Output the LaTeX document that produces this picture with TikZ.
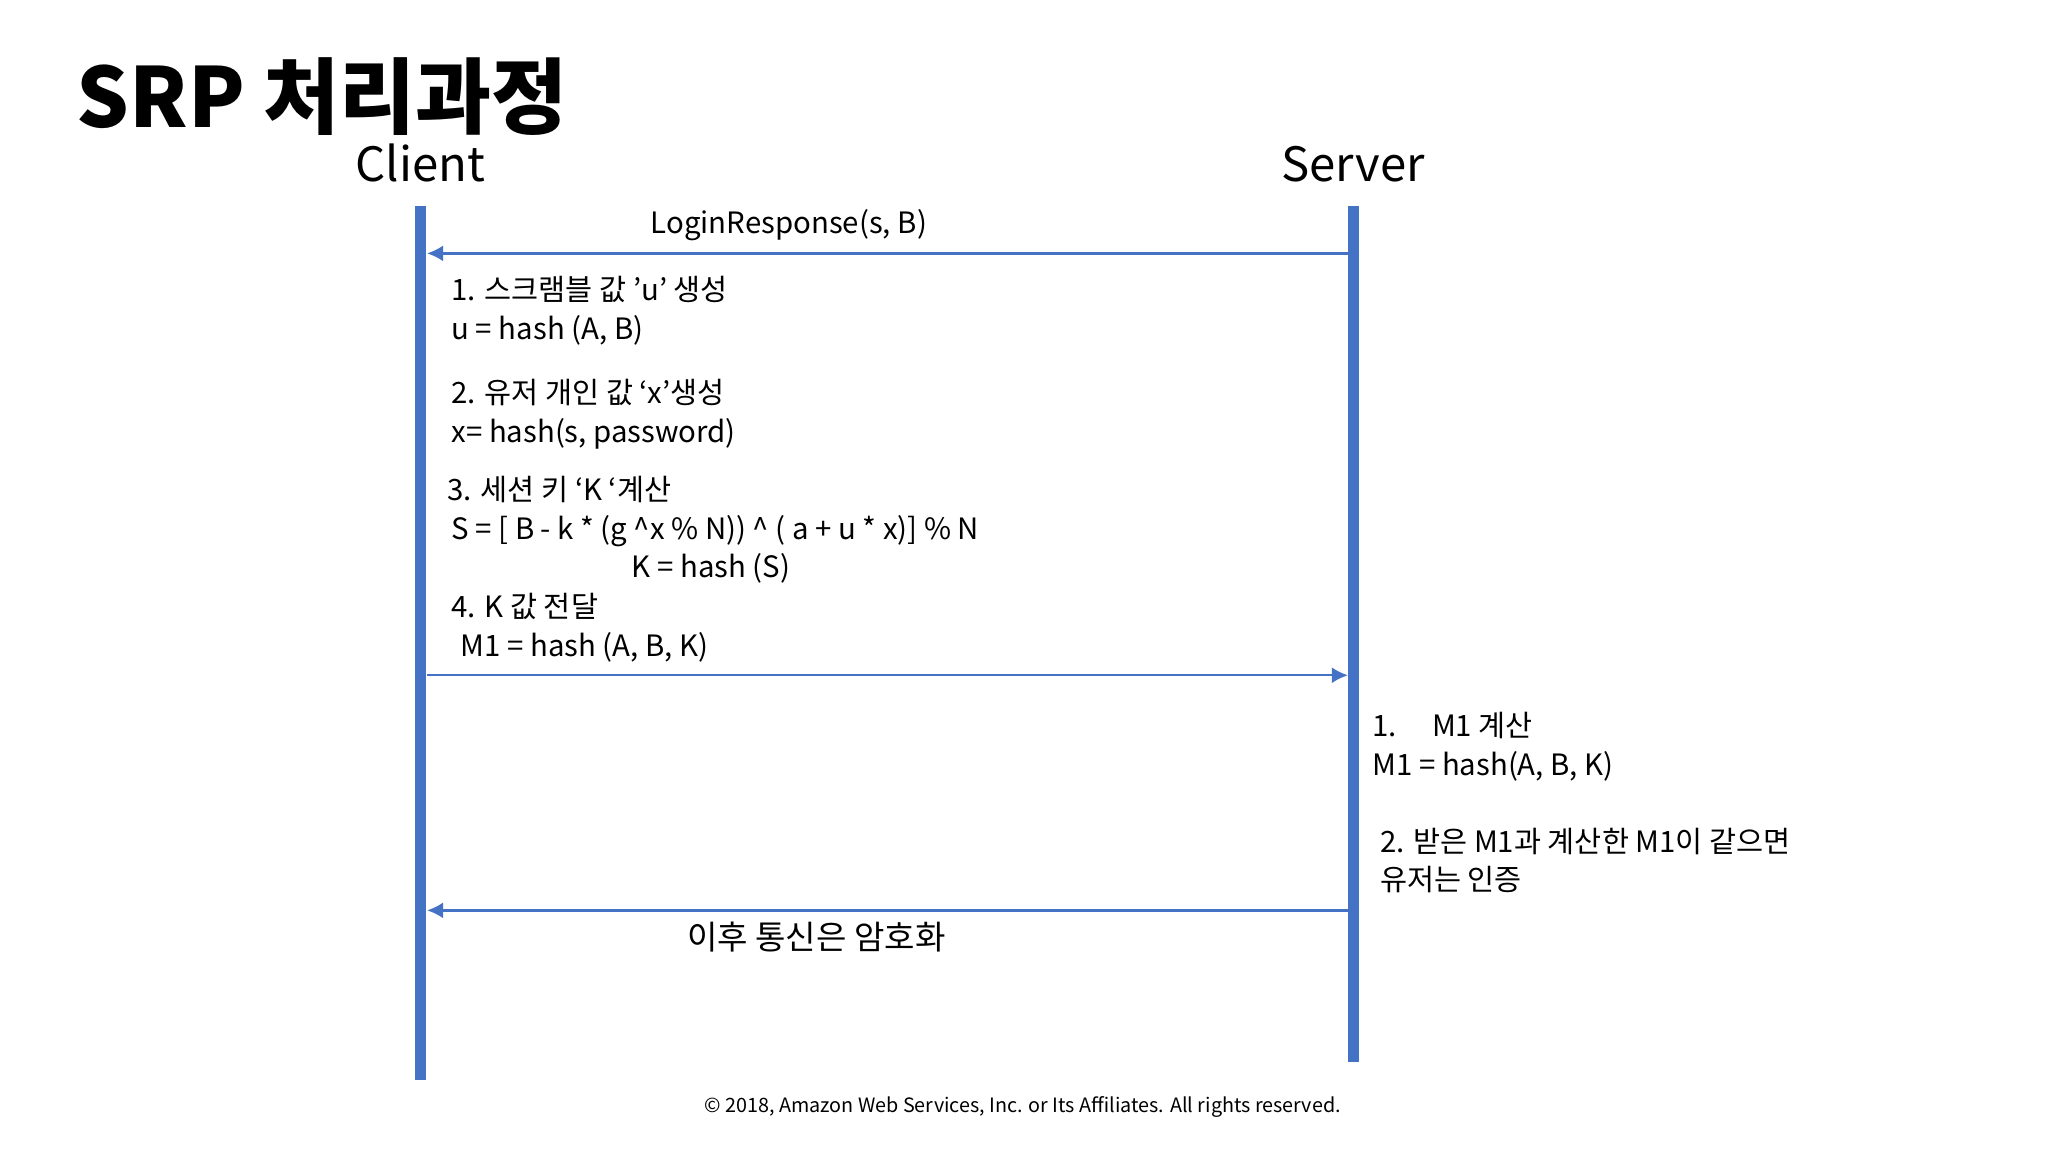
\documentclass[tikz,border=0pt]{standalone}
\usepackage{fontspec}
\setmainfont{Noto Sans CJK KR}
\usetikzlibrary{arrows.meta}
\definecolor{lblue}{HTML}{4472C4}
\begin{document}
\begin{tikzpicture}[x=0.01cm,y=-0.01cm,
  life/.style={draw=lblue,line width=2.4pt},
  msg/.style={draw=lblue,line width=0.5pt,-{Latex[length=3.5pt,width=3.5pt]}},
  txt/.style={anchor=base west,inner sep=0pt,font=\fontsize{6.4}{8}\selectfont},
  hd/.style={anchor=base,inner sep=0pt,font=\fontsize{10.3}{13}\selectfont}]
\useasboundingbox (0,0) rectangle (1568,882);
\node[anchor=base west,inner sep=0pt,font=\fontsize{18}{22}\selectfont\bfseries] (title) at (58,98) {SRP 처리과정};
\node[hd] (cl) at (322,139) {Client};
\node[hd] (sv) at (1036,139) {Server};
\coordinate (ct) at (322,158); \coordinate (cb) at (322,827);
\coordinate (st) at (1036,158); \coordinate (sb) at (1036,813);
\draw[life] (ct) -- (cb);
\draw[life] (st) -- (sb);
\coordinate (s1) at (1032,194); \coordinate (c1) at (327,194);
\coordinate (c2) at (327,517); \coordinate (s2) at (1032,517);
\coordinate (s3) at (1032,697); \coordinate (c3) at (327,697);
\draw[msg] (s1) -- (c1);
\draw[msg] (c2) -- (s2);
\draw[msg] (s3) -- (c3);
\node[txt,anchor=base] (l1) at (604,179) {LoginResponse(s, B)};
\node[txt] (a1) at (345,230) {1. 스크램블 값 ’u’ 생성};
\node[txt] (a2) at (345,260) {u = hash (A, B)};
\node[txt] (a3) at (345,309) {2. 유저 개인 값 ‘x’생성};
\node[txt] (a4) at (345,339) {x= hash(s, password)};
\node[txt] (a5) at (342,383) {3. 세션 키 ‘K ‘계산};
\node[txt] (a6) at (345,413) {S = [ B - k * (g \^{}x \% N)) \^{} ( a + u * x)] \% N};
\node[txt] (a7) at (483,442) {K = hash (S)};
\node[txt] (a8) at (345,473) {4. K 값 전달};
\node[txt] (a9) at (352,503) {M1 = hash (A, B, K)};
\node[txt] (b1) at (1050,564) {1.\hspace{1.2em}M1 계산};
\node[txt] (b2) at (1050,594) {M1 = hash(A, B, K)};
\node[txt] (b3) at (1056,653) {2. 받은 M1과 계산한 M1이 같으면};
\node[txt] (b4) at (1056,682) {유저는 인증};
\node[txt,anchor=base,font=\fontsize{7.2}{8}\selectfont] (l3) at (625,727) {이후 통신은 암호화};
\node[anchor=base,inner sep=0pt,font=\fontsize{4.3}{5}\selectfont] (ft) at (783,852) {© 2018, Amazon Web Services, Inc. or Its Affiliates. All rights reserved.};
\end{tikzpicture}
\end{document}
